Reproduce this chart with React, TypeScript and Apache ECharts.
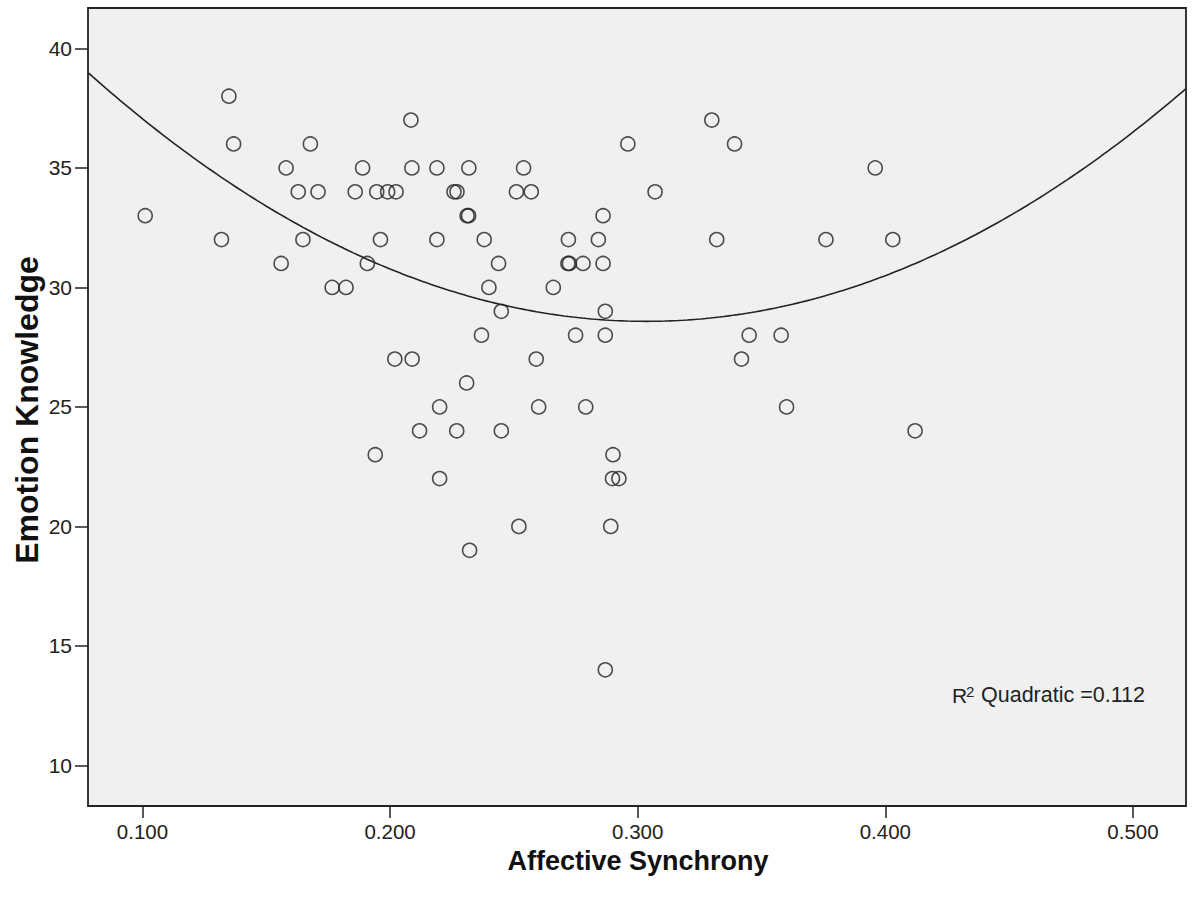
import React, { useEffect, useRef } from "react";
import * as echarts from "echarts";

// Affective Synchrony (x) and Emotion Knowledge (y)
const synchrony: number[] = [
  0.1011, 0.1319, 0.1349, 0.1368, 0.156, 0.158, 0.1629, 0.1648, 0.1678, 0.1709,
  0.1766, 0.1822, 0.1859, 0.1889, 0.1908, 0.194, 0.1946, 0.1961, 0.199, 0.2024,
  0.2019, 0.2084, 0.2088, 0.2089, 0.2119, 0.2189, 0.2189, 0.22, 0.22, 0.2258,
  0.227, 0.2269, 0.2309, 0.2311, 0.2317, 0.2318, 0.2321, 0.2369, 0.238, 0.2399,
  0.2438, 0.2449, 0.2449, 0.251, 0.252, 0.2539, 0.257, 0.259, 0.26, 0.2659,
  0.272, 0.2718, 0.2724, 0.2749, 0.2779, 0.279, 0.2841, 0.286, 0.286, 0.2869,
  0.2869, 0.2869, 0.2891, 0.29, 0.2898, 0.2924, 0.296, 0.307, 0.3299, 0.3319,
  0.3391, 0.3419, 0.345, 0.3579, 0.3601, 0.376, 0.3959, 0.403, 0.412,
];
const knowledge: number[] = [
  33, 32, 38, 36, 31, 35, 34, 32, 36, 34,
  30, 30, 34, 35, 31, 23, 34, 32, 34, 34,
  27, 37, 35, 27, 24, 35, 32, 25, 22, 34,
  34, 24, 26, 33, 33, 35, 19, 28, 32, 30,
  31, 29, 24, 34, 20, 35, 34, 27, 25, 30,
  32, 31, 31, 28, 31, 25, 32, 33, 31, 29,
  28, 14, 20, 23, 22, 22, 36, 34, 37, 32,
  36, 27, 28, 28, 25, 32, 35, 32, 24,
];

const xTicks: number[] = [0.1, 0.2, 0.3, 0.4, 0.5];
const yTicks: number[] = [10, 15, 20, 25, 30, 35, 40];
const xRange: number[] = [0.078, 0.5214];
const yRange: number[] = [8.3, 41.69];
const r2Label = "0.112";

// least-squares quadratic fit computed from the data
function quadFit(xs: number[], ys: number[]): number[] {
  const n = xs.length;
  let s0 = n, s1 = 0, s2 = 0, s3 = 0, s4 = 0, t0 = 0, t1 = 0, t2 = 0;
  for (let i = 0; i < n; i++) {
    const x = xs[i], y = ys[i];
    s1 += x; s2 += x * x; s3 += x * x * x; s4 += x * x * x * x;
    t0 += y; t1 += x * y; t2 += x * x * y;
  }
  const A = [
    [s0, s1, s2, t0],
    [s1, s2, s3, t1],
    [s2, s3, s4, t2],
  ];
  for (let c = 0; c < 3; c++) {
    let p = c;
    for (let r = c + 1; r < 3; r++) if (Math.abs(A[r][c]) > Math.abs(A[p][c])) p = r;
    [A[c], A[p]] = [A[p], A[c]];
    for (let r = 0; r < 3; r++) {
      if (r === c) continue;
      const f = A[r][c] / A[c][c];
      for (let k = c; k < 4; k++) A[r][k] -= f * A[c][k];
    }
  }
  return [A[0][3] / A[0][0], A[1][3] / A[1][1], A[2][3] / A[2][2]];
}

export default function App() {
  const ref = useRef<HTMLDivElement>(null);
  useEffect(() => {
    document.body.style.margin = "0";
    if (!ref.current) return;
    const chart = echarts.init(ref.current, undefined, { renderer: "svg" });
    const [a, b, c] = quadFit(synchrony, knowledge);
    const fitLine: number[][] = [];
    const steps = 240;
    for (let i = 0; i <= steps; i++) {
      const x = xRange[0] + ((xRange[1] - xRange[0]) * i) / steps;
      fitLine.push([x, a + b * x + c * x * x]);
    }
    const font = '"Liberation Sans", Arial, sans-serif';
    const ink = "#222";
    chart.setOption({
      animation: false,
      backgroundColor: "#ffffff",
      grid: {
        left: 88,
        top: 8,
        right: 7,
        bottom: 91,
        show: true,
        backgroundColor: "#f0f0f0",
        borderColor: ink,
        borderWidth: 1.8,
      },
      xAxis: {
        type: "value",
        min: xRange[0],
        max: xRange[1],
        splitLine: { show: false },
        axisLine: { show: false },
        axisTick: { show: true, customValues: xTicks, length: 12, lineStyle: { color: ink, width: 1.5 } },
        axisLabel: {
          customValues: xTicks,
          margin: 15,
          color: ink,
          fontSize: 20.5,
          lineHeight: 21,
          fontFamily: font,
          formatter: (v: number) => v.toFixed(3),
        },
      },
      yAxis: {
        type: "value",
        min: yRange[0],
        max: yRange[1],
        splitLine: { show: false },
        axisLine: { show: false },
        axisTick: { show: true, customValues: yTicks, length: 13, lineStyle: { color: ink, width: 1.5 } },
        axisLabel: {
          customValues: yTicks,
          margin: 16,
          color: ink,
          fontSize: 21,
          fontFamily: font,
        },
      },
      graphic: [
        {
          type: "text",
          x: 638,
          y: 861,
          style: {
            text: "Affective Synchrony",
            font: `bold 27px ${font}`,
            lineHeight: 27,
            fill: "#111",
            align: "center",
            verticalAlign: "middle",
          },
        },
        {
          type: "text",
          x: 27,
          y: 410,
          rotation: Math.PI / 2,
          style: {
            text: "Emotion Knowledge",
            font: `bold 32px ${font}`,
            fill: "#111",
            align: "center",
            verticalAlign: "middle",
          },
        },
        {
          type: "text",
          x: 952,
          y: 706,
          style: { text: "R", font: `21px ${font}`, fill: ink, verticalAlign: "bottom" },
        },
        {
          type: "text",
          x: 966,
          y: 699,
          style: { text: "2", font: `15px ${font}`, fill: ink, verticalAlign: "bottom" },
        },
        {
          type: "text",
          x: 981,
          y: 706,
          style: { text: "Quadratic =" + r2Label, font: `21.5px ${font}`, fill: ink, verticalAlign: "bottom" },
        },
      ],
      series: [
        {
          type: "line",
          data: fitLine,
          showSymbol: false,
          symbol: "none",
          clip: true,
          lineStyle: { color: ink, width: 1.6 },
          silent: true,
          z: 2,
        },
        {
          type: "scatter",
          data: synchrony.map((x, i) => [x, knowledge[i]]),
          symbol: "circle",
          symbolSize: 14,
          itemStyle: { color: "rgba(0,0,0,0)", borderColor: ink, borderWidth: 1.6 },
          z: 3,
        },
      ],
    });
    return () => chart.dispose();
  }, []);
  return <div ref={ref} style={{ width: 1193, height: 897 }} />;
}
